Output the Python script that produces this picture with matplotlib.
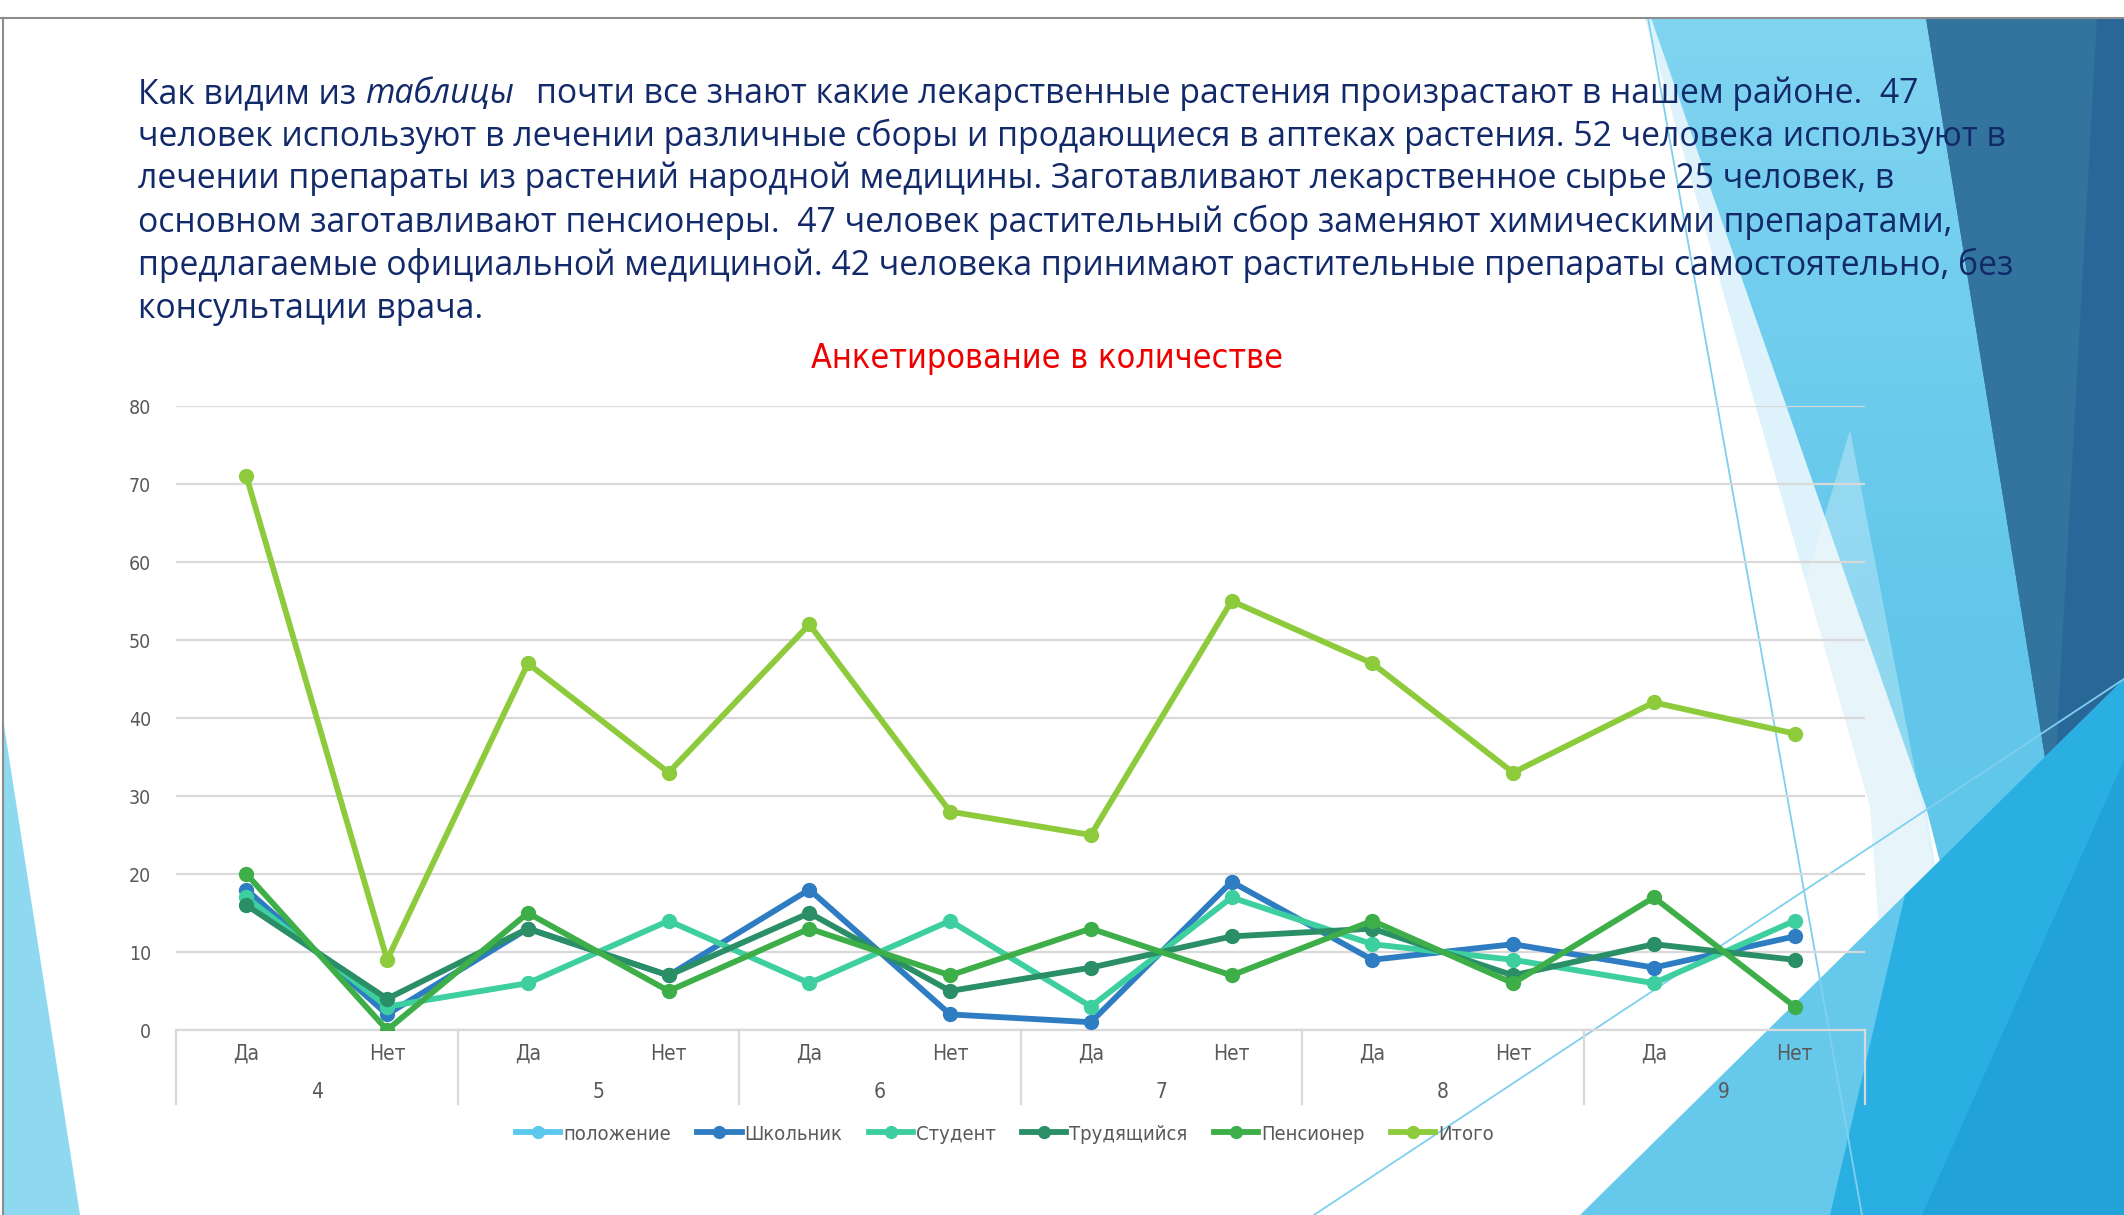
import matplotlib
matplotlib.use("Agg")
import numpy as np
import matplotlib.pyplot as plt
from matplotlib.patches import Polygon
from matplotlib.colors import LinearSegmentedColormap

# ---------------- data ----------------
answers = ["Да", "Нет", "Да", "Нет", "Да", "Нет", "Да", "Нет", "Да", "Нет", "Да", "Нет"]
groups = ["4", "5", "6", "7", "8", "9"]
polozhenie = []  # header series, no values drawn
shkolnik = [18, 2, 13, 7, 18, 2, 1, 19, 9, 11, 8, 12]
student = [17, 3, 6, 14, 6, 14, 3, 17, 11, 9, 6, 14]
trudyashchiysya = [16, 4, 13, 7, 15, 5, 8, 12, 13, 7, 11, 9]
pensioner = [20, 0, 15, 5, 13, 7, 13, 7, 14, 6, 17, 3]
itogo = [71, 9, 47, 33, 52, 28, 25, 55, 47, 33, 42, 38]
y_ticks = [0, 10, 20, 30, 40, 50, 60, 70, 80]

series_names = ["положение", "Школьник", "Студент", "Трудящийся", "Пенсионер", "Итого"]
series_vals = [polozhenie, shkolnik, student, trudyashchiysya, pensioner, itogo]
series_colors = ["#5BC8EE", "#2E7DC2", "#3ECFA0", "#2A8E66", "#3DAE48", "#8DCB3C"]

W, H = 2124, 1215
fig = plt.figure(figsize=(W / 100, H / 100), dpi=100)
fig.patch.set_facecolor("white")

COND = dict(family="DejaVu Sans", stretch="condensed")
BODY = ["Open Sans", "DejaVu Sans"]

# ---------------- slide decoration (background) ----------------
bg = fig.add_axes([0, 0, 1, 1], zorder=0)
bg.set_xlim(0, W)
bg.set_ylim(H, 0)
bg.axis("off")

def poly(pts, color, alpha=1.0, z=1):
    p = Polygon(pts, closed=True, facecolor=color, edgecolor="none", alpha=alpha, zorder=z)
    bg.add_patch(p)
    return p

poly([(1645, 18), (1651, 18), (1926, 807), (1990, 1215), (1900, 1215), (1870, 807)], "#DDF2FA", z=1)
# cyan band with soft vertical gradient
cyan = poly([(1651, 18), (2124, 18), (2124, 1215), (2030, 1215), (1926, 807)], "none", z=1)
cmap = LinearSegmentedColormap.from_list("cy", ["#80D4F0", "#62C7EB", "#5EC5EA"])
grad = np.linspace(0, 1, 256).reshape(-1, 1)
im = bg.imshow(grad, cmap=cmap, extent=(1640, 2124, 1215, 18), aspect="auto", zorder=1.2)
im.set_clip_path(cyan)
poly([(1926, 18), (2124, 18), (2124, 679), (2053, 807)], "#2A6799", z=2)
poly([(1926, 18), (2097, 18), (2053, 807)], "#33749F", z=2.2)
poly([(1619, 1215), (1850, 430), (2000, 1215)], "#FFFFFF", alpha=0.3, z=3)
poly([(1580, 1215), (2124, 679), (2124, 1215)], "#55C4EA", alpha=0.9, z=4)
poly([(1830, 1215), (1905, 895), (2124, 679), (2124, 1215)], "#2AAFE3", z=5)
poly([(1922, 1215), (2124, 760), (2124, 1215)], "#1F9FD6", alpha=0.8, z=5.5)
poly([(4, 725), (80, 1215), (4, 1215)], "#8FD9F0", z=2)

bg.plot([1648, 1862], [18, 1215], color="#7FD0EE", lw=1.3, zorder=7)
bg.plot([1314, 2124], [1215, 679], color="#7FD0EE", lw=1.3, zorder=7)
bg.plot([0, W], [18, 18], color="#8C8C8C", lw=1.5, zorder=8)
bg.plot([3, 3], [18, H], color="#8C8C8C", lw=1.5, zorder=8)

# ---------------- body text ----------------
TXT_COLOR = "#12296A"
FS = 24.3
x0 = 138 / W
baselines = [103, 146, 188, 232, 275, 318]
lines = [
    None,
    "человек используют в лечении различные сборы и продающиеся в аптеках растения. 52 человека используют в",
    "лечении препараты из растений народной медицины. Заготавливают лекарственное сырье 25 человек, в",
    "основном заготавливают пенсионеры.  47 человек растительный сбор заменяют химическими препаратами,",
    "предлагаемые официальной медициной. 42 человека принимают растительные препараты самостоятельно, без",
    "консультации врача.",
]
t1 = fig.text(x0, 1 - baselines[0] / H, "Как видим из", fontsize=FS, color=TXT_COLOR,
              family=BODY, va="baseline", ha="left", zorder=10)
t2 = fig.text(0, 0, "таблицы", fontsize=FS, color=TXT_COLOR, family=BODY, style="italic",
              va="baseline", ha="left", zorder=10)
t3 = fig.text(0, 0, "почти все знают какие лекарственные растения произрастают в нашем районе.  47",
              fontsize=FS, color=TXT_COLOR, family=BODY, va="baseline", ha="left", zorder=10)
fig.canvas.draw()
r = fig.canvas.get_renderer()
sp = 9.0  # space width in px
bb = t1.get_window_extent(r)
t2.set_position(((bb.x1 + sp) / W, 1 - baselines[0] / H))
bb2 = t2.get_window_extent(r)
t3.set_position(((bb2.x1 + 2.5 * sp) / W, 1 - baselines[0] / H))
for yb, s in zip(baselines[1:], lines[1:]):
    fig.text(x0, 1 - yb / H, s, fontsize=FS, color=TXT_COLOR, family=BODY,
             va="baseline", ha="left", zorder=10)

# ---------------- chart ----------------
left, right = 176 / W, 1865 / W
bottom, top = 1 - 1030 / H, 1 - 406 / H
ax = fig.add_axes([left, bottom, right - left, top - bottom], zorder=5)
ax.set_facecolor("none")
x = list(range(len(answers)))
handles = []
for name, vals, c in zip(series_names, series_vals, series_colors):
    if len(vals):
        h, = ax.plot(x, vals, color=c, lw=4.2, marker="o", markersize=10, label=name,
                     solid_joinstyle="round", zorder=3)
    else:
        h, = ax.plot([], [], color=c, lw=4.2, marker="o", markersize=10, label=name)
    handles.append(h)

ax.set_xlim(-0.5, len(answers) - 0.5)
ax.set_ylim(0, 80)
ax.set_yticks(y_ticks)
ax.yaxis.grid(True, color="#D9D9D9", lw=1.6)
ax.set_axisbelow(True)
for s in ["top", "right", "left"]:
    ax.spines[s].set_visible(False)
ax.spines["bottom"].set_color("#D9D9D9")
ax.spines["bottom"].set_linewidth(1.6)
ax.tick_params(axis="y", length=0, pad=18, labelsize=14, labelcolor="#595959")
for lab in ax.get_yticklabels():
    lab.set_family(COND["family"])
    lab.set_stretch(COND["stretch"])
ax.set_xticks(x)
ax.set_xticklabels(answers, fontsize=15, color="#595959", **COND)
ax.tick_params(axis="x", length=0, pad=10)

axh = 1030 - 406
for i, g in enumerate(groups):
    ax.text(2 * i + 0.5, -(1092 - 1030) / axh * 80, g, ha="center", va="center",
            fontsize=15, color="#595959", clip_on=False, **COND)
for b in range(len(groups) + 1):
    ax.plot([2 * b - 0.5, 2 * b - 0.5], [0, -(1104 - 1030) / axh * 80], color="#D9D9D9",
            lw=1.6, clip_on=False)

fig.text(1047 / W, 1 - 358 / H, "Анкетирование в количестве", color="#EE0000",
         fontsize=24.5, ha="center", va="center", zorder=10, **COND)

leg = fig.legend(handles=handles, labels=series_names, loc="center", ncol=6,
                 bbox_to_anchor=(1005 / W, 1 - 1134 / H), frameon=False,
                 prop={"family": COND["family"], "stretch": COND["stretch"], "size": 14.5},
                 handlelength=2.2, handletextpad=0.15, columnspacing=1.3, markerscale=0.85)
for t in leg.get_texts():
    t.set_color("#595959")

fig.savefig("out.png", dpi=100)
